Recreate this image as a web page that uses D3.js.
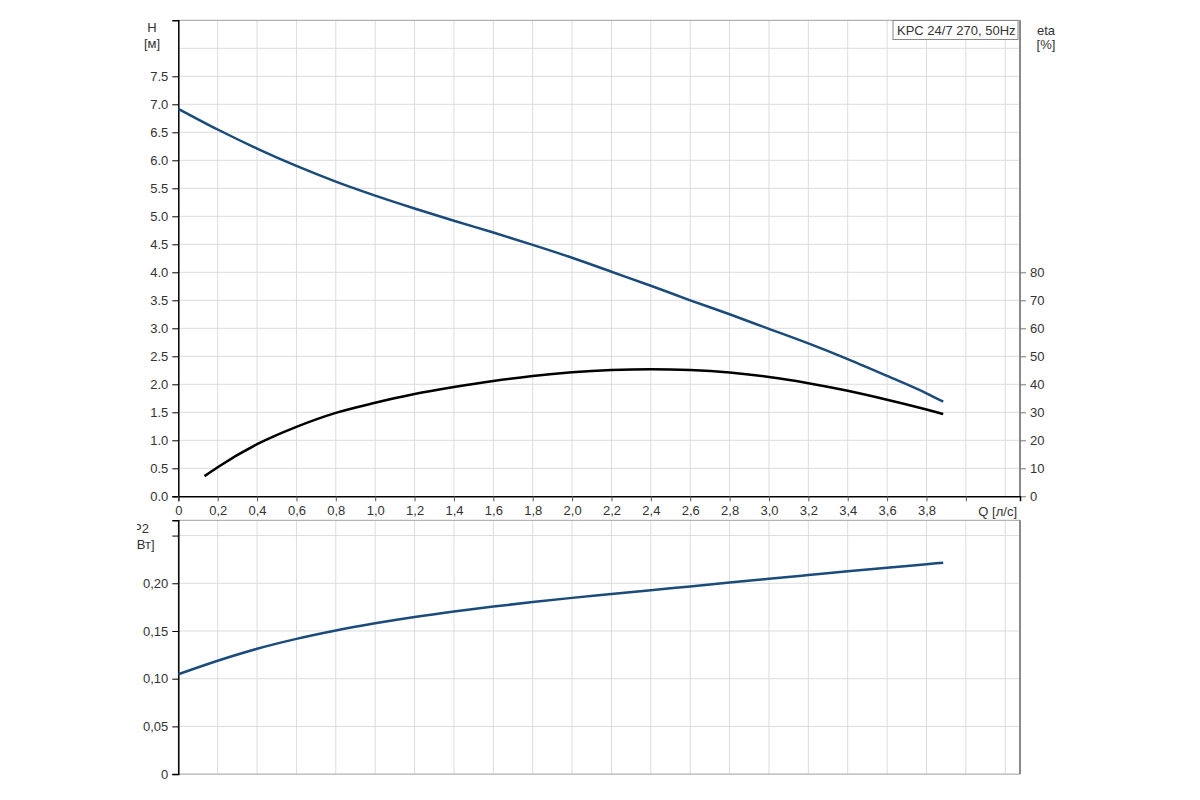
<!DOCTYPE html>
<html>
<head>
<meta charset="utf-8">
<script src="https://cdn.jsdelivr.net/npm/d3@7"></script>
<style>
  body { margin: 0; background: #fff; }
  text { font-family: "Liberation Sans", Arial, sans-serif; font-size: 13px; fill: #333; }
</style>
</head>
<body>
<div id="graphic"></div>
<script>
// data
var qH   = [0, 0.2, 0.4, 0.6, 0.8, 1.0, 1.2, 1.4, 1.6, 1.8, 2.0, 2.2, 2.4, 2.6, 2.8, 3.0, 3.2, 3.4, 3.6, 3.8, 3.885];
var head = [6.92, 6.55, 6.21, 5.90, 5.62, 5.37, 5.14, 4.92, 4.71, 4.49, 4.26, 4.01, 3.76, 3.50, 3.25, 2.99, 2.73, 2.45, 2.15, 1.84, 1.69];

var qEta = [0.133, 0.2, 0.4, 0.6, 0.8, 1.0, 1.2, 1.4, 1.6, 1.8, 2.0, 2.2, 2.4, 2.6, 2.8, 3.0, 3.2, 3.4, 3.6, 3.8, 3.885];
var eta  = [7.2, 10.4, 18.6, 24.8, 29.8, 33.4, 36.5, 39.0, 41.2, 43.0, 44.3, 45.1, 45.4, 45.1, 44.2, 42.6, 40.4, 37.7, 34.5, 31.0, 29.4];

var qP   = [0, 0.2, 0.4, 0.6, 0.8, 1.0, 1.2, 1.4, 1.6, 1.8, 2.0, 2.2, 2.4, 2.6, 2.8, 3.0, 3.2, 3.4, 3.6, 3.8, 3.885];
var p2   = [0.1046, 0.1188, 0.1313, 0.1417, 0.1505, 0.1580, 0.1646, 0.1704, 0.1756, 0.1803, 0.1847, 0.1887, 0.1927, 0.1967, 0.2007, 0.2047, 0.2086, 0.2125, 0.2163, 0.2200, 0.2216];

var qTicks   = [0, 0.2, 0.4, 0.6, 0.8, 1.0, 1.2, 1.4, 1.6, 1.8, 2.0, 2.2, 2.4, 2.6, 2.8, 3.0, 3.2, 3.4, 3.6, 3.8, 4.0];
var qGrid    = [0.2, 0.4, 0.6, 0.8, 1.0, 1.2, 1.4, 1.6, 1.8, 2.0, 2.2, 2.4, 2.6, 2.8, 3.0, 3.2, 3.4, 3.6, 3.8, 4.0, 4.2];
var hTicks   = [0, 0.5, 1.0, 1.5, 2.0, 2.5, 3.0, 3.5, 4.0, 4.5, 5.0, 5.5, 6.0, 6.5, 7.0, 7.5];
var hGrid    = [0.5, 1.0, 1.5, 2.0, 2.5, 3.0, 3.5, 4.0, 4.5, 5.0, 5.5, 6.0, 6.5, 7.0, 7.5, 8.0];
var etaTicks = [0, 10, 20, 30, 40, 50, 60, 70, 80];
var pTicks   = [0, 0.05, 0.10, 0.15, 0.20, 0.25];
var pGrid    = [0.05, 0.10, 0.15, 0.20, 0.25];

var title = "KPC 24/7 270, 50Hz";

var svg = d3.select("#graphic").append("svg")
        .attr("width", 1200)
        .attr("height", 800);

var left = 178.3, right = 1020;

var x = d3.scaleLinear().domain([0, 4.275]).range([left, right]);
var yH = d3.scaleLinear().domain([0, 8.5]).range([496.3, 20.3]);
var yEta = d3.scaleLinear().domain([0, 170]).range([496.3, 20.3]);
var yP = d3.scaleLinear().domain([0, 0.266]).range([774.1, 520.3]);

var blue = "#1b4b7a";
var gridColor = "#dcdcdc";

// ---- top chart: H and eta ----
var gTop = svg.append("g");

gTop.selectAll(".vg").data(qGrid).enter().append("line")
        .attr("x1", d => x(d)).attr("x2", d => x(d))
        .attr("y1", yH.range()[1]).attr("y2", yH.range()[0])
        .style("stroke", gridColor);

gTop.selectAll(".hg").data(hGrid).enter().append("line")
        .attr("x1", left).attr("x2", right)
        .attr("y1", d => yH(d)).attr("y2", d => yH(d))
        .style("stroke", gridColor);

// frame (top + right)
gTop.append("line").attr("x1", left).attr("x2", right)
        .attr("y1", yH.range()[1]).attr("y2", yH.range()[1])
        .style("stroke", "#a0a0a0");
gTop.append("line").attr("x1", right).attr("x2", right)
        .attr("y1", yH.range()[1]).attr("y2", yH.range()[0])
        .style("stroke", "#8a8a8a").style("stroke-width", 2);

var hAxis = gTop.append("g")
        .attr("transform", "translate(" + left + ",0)")
        .call(d3.axisLeft(yH).tickValues(hTicks).tickSize(6).tickPadding(4).tickFormat(d3.format(".1f")));

var etaAxis = gTop.append("g")
        .attr("transform", "translate(" + right + ",0)")
        .call(d3.axisRight(yEta).tickValues(etaTicks).tickSize(6).tickPadding(4).tickFormat(d3.format("d")));

var qAxis = gTop.append("g")
        .attr("transform", "translate(0," + yH(0) + ")")
        .call(d3.axisBottom(x).tickValues(qTicks).tickSize(5).tickPadding(4)
              .tickFormat(d => d === 0 ? "0" : (d >= 4 ? "" : d3.format(".1f")(d).replace(".", ","))));

[hAxis, etaAxis, qAxis].forEach(function(a) {
    a.selectAll("text").style("font-size", "13px").style("fill", "#333")
        .style("font-family", "'Liberation Sans', Arial, sans-serif");
});
hAxis.select(".domain").style("stroke", "#000").style("stroke-width", 1.5);
hAxis.selectAll(".tick line").style("stroke", "#000");
etaAxis.select(".domain").remove();
etaAxis.selectAll(".tick line").style("stroke", "#777");
qAxis.select(".domain").style("stroke", "#000").style("stroke-width", 1.5);
qAxis.selectAll(".tick line").style("stroke", "#555");

var lineH = d3.line().x((d, i) => x(qH[i])).y(d => yH(d)).curve(d3.curveMonotoneX);
gTop.append("path").datum(head)
        .attr("d", lineH)
        .style("fill", "none").style("stroke", blue).style("stroke-width", 2.5);

var lineEta = d3.line().x((d, i) => x(qEta[i])).y(d => yEta(d)).curve(d3.curveMonotoneX);
gTop.append("path").datum(eta)
        .attr("d", lineEta)
        .style("fill", "none").style("stroke", "#000").style("stroke-width", 2.5);

// labels
gTop.append("text").attr("x", 152).attr("y", 32).attr("text-anchor", "middle").text("H");
gTop.append("text").attr("x", 152).attr("y", 48).attr("text-anchor", "middle").text("[м]");
gTop.append("text").attr("x", 1046).attr("y", 35).attr("text-anchor", "middle").text("eta");
gTop.append("text").attr("x", 1046).attr("y", 49).attr("text-anchor", "middle").text("[%]");
gTop.append("text").attr("x", 1017).attr("y", 516).attr("text-anchor", "end").text("Q [л/с]");

// title box
gTop.append("rect")
        .attr("x", 893).attr("y", 20.5).attr("width", 125).attr("height", 19)
        .style("fill", "#fff").style("stroke", "#888");
gTop.append("text").attr("x", 897).attr("y", 35).text(title);

// ---- bottom chart: P2 ----
var gBot = svg.append("g");

gBot.selectAll(".vg").data(qGrid).enter().append("line")
        .attr("x1", d => x(d)).attr("x2", d => x(d))
        .attr("y1", yP.range()[1]).attr("y2", yP.range()[0])
        .style("stroke", gridColor);

gBot.selectAll(".hg").data(pGrid).enter().append("line")
        .attr("x1", left).attr("x2", right)
        .attr("y1", d => yP(d)).attr("y2", d => yP(d))
        .style("stroke", gridColor);

gBot.append("rect")
        .attr("x", left).attr("y", yP.range()[1])
        .attr("width", right - left).attr("height", yP.range()[0] - yP.range()[1])
        .style("fill", "none").style("stroke", "#a0a0a0");
gBot.append("line").attr("x1", right).attr("x2", right)
        .attr("y1", yP.range()[1]).attr("y2", yP.range()[0])
        .style("stroke", "#8a8a8a").style("stroke-width", 2);

var pAxis = gBot.append("g")
        .attr("transform", "translate(" + left + ",0)")
        .call(d3.axisLeft(yP).tickValues(pTicks).tickSize(6).tickPadding(4)
              .tickFormat(d => d === 0 ? "0" : (d > 0.22 ? "" : d3.format(".2f")(d).replace(".", ","))));
pAxis.selectAll("text").style("font-size", "13px").style("fill", "#333")
        .style("font-family", "'Liberation Sans', Arial, sans-serif");
pAxis.select(".domain").style("stroke", "#000").style("stroke-width", 1.5);
pAxis.selectAll(".tick line").style("stroke", "#000");

var lineP = d3.line().x((d, i) => x(qP[i])).y(d => yP(d)).curve(d3.curveMonotoneX);
gBot.append("path").datum(p2)
        .attr("d", lineP)
        .style("fill", "none").style("stroke", blue).style("stroke-width", 2.5);

// P2 label, cut at the left like the original
svg.append("clipPath").attr("id", "cut")
        .append("rect").attr("x", 137).attr("y", 500).attr("width", 60).attr("height", 60);
var pLab = gBot.append("g").attr("clip-path", "url(#cut)");
pLab.append("text").attr("x", 141).attr("y", 533).attr("text-anchor", "middle").text("P2");
pLab.append("text").attr("x", 141).attr("y", 549).attr("text-anchor", "middle").text("[кВт]");
</script>
</body>
</html>
